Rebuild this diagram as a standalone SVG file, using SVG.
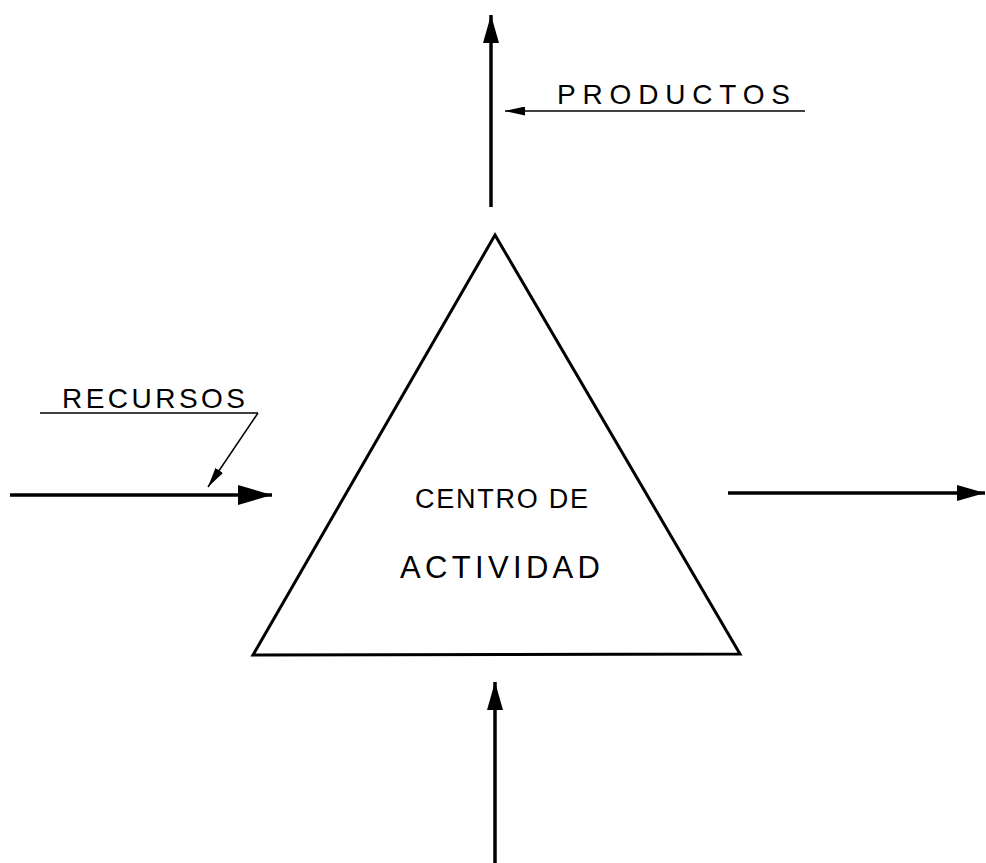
<svg xmlns="http://www.w3.org/2000/svg" width="986" height="863" viewBox="0 0 986 863">
<style>
.t{font-family:"Liberation Sans","DejaVu Sans",sans-serif;fill:#000;font-weight:normal}
.thick{stroke:#000;stroke-width:3.5;fill:none}
.thin{stroke:#000;stroke-width:1.5;fill:none}
</style>
<defs>
<marker id="big" viewBox="0 0 28 16" refX="28" refY="8" markerWidth="28" markerHeight="16" markerUnits="userSpaceOnUse" orient="auto">
<path d="M0,0 L28,8 L0,16 Z" fill="#000"/>
</marker>
<marker id="long" viewBox="0 0 34 20" refX="34" refY="10" markerWidth="34" markerHeight="20" markerUnits="userSpaceOnUse" orient="auto">
<path d="M0,0 L34,10 L0,20 Z" fill="#000"/>
</marker>
<marker id="small" viewBox="0 0 20 9" refX="20" refY="4.5" markerWidth="20" markerHeight="9" markerUnits="userSpaceOnUse" orient="auto">
<path d="M0,0 L20,4.5 L0,9 Z" fill="#000"/>
</marker>
</defs>
<rect width="986" height="863" fill="#fff"/>
<g id="centro">
<polygon points="495,235 253,655 740,654" fill="none" stroke="#000" stroke-width="3"/>
<text class="t" x="415" y="508" font-size="27" textLength="173" lengthAdjust="spacing">CENTRO DE</text>
<text class="t" x="400" y="578" font-size="31" textLength="200" lengthAdjust="spacing">ACTIVIDAD</text>
</g>
<g id="productos">
<text class="t" x="557" y="104" font-size="28" textLength="233" lengthAdjust="spacing">PRODUCTOS</text>
</g>
<g id="recursos">
<text class="t" x="62" y="408" font-size="28" textLength="183" lengthAdjust="spacing">RECURSOS</text>
</g>
<g id="connectors">
<line class="thick" x1="491" y1="207" x2="491" y2="15" marker-end="url(#big)"/>
<line class="thin" x1="805" y1="111" x2="505" y2="111" marker-end="url(#small)"/>
<line class="thin" x1="40" y1="413" x2="258" y2="413"/>
<line class="thin" x1="258" y1="413" x2="208" y2="487" marker-end="url(#small)"/>
<line class="thick" x1="10" y1="495" x2="272" y2="495" marker-end="url(#long)"/>
<line class="thick" x1="728" y1="493" x2="985" y2="493" marker-end="url(#big)"/>
<line class="thick" x1="495" y1="863" x2="495" y2="682" marker-end="url(#big)"/>
</g>
</svg>
